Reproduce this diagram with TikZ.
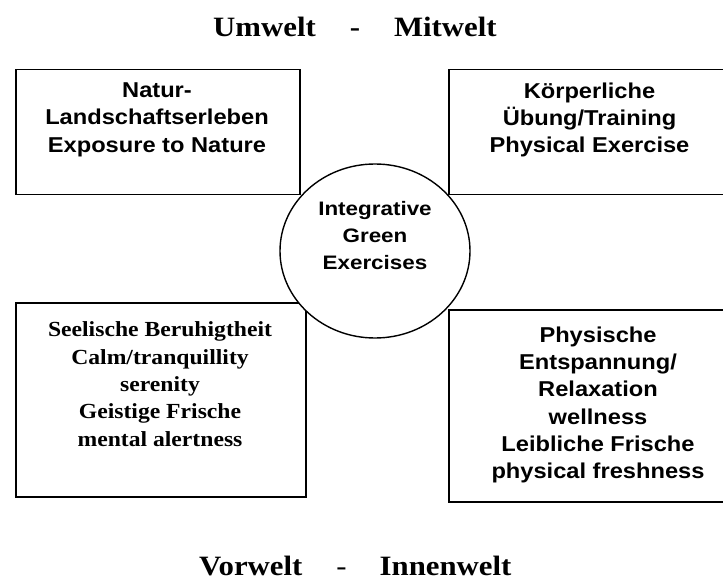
\documentclass[tikz,border=0pt]{standalone}
\usepackage{fontspec}
\setmainfont{Liberation Serif}
\newfontfamily\sansbox{Liberation Sans}[FakeStretch=1.1]
\newfontfamily\sanscore{Liberation Sans}[FakeStretch=1.15]
\newfontfamily\serifbox{Liberation Serif}[FakeStretch=1.1]
\usetikzlibrary{shapes.geometric}
\begin{document}
\begin{tikzpicture}[x=1pt,y=-1pt,
  panel/.style={draw, line width=1.5pt, rectangle, inner sep=0pt, anchor=north west, fill=white},
  core/.style={draw, line width=1.4pt, ellipse, inner sep=0pt, fill=white,
    minimum width=190pt, minimum height=174pt},
  sanslabel/.style={font=\sansbox\bfseries\fontsize{21.5}{27.3}\selectfont,
    align=center, inner sep=0pt, anchor=north},
  corelabel/.style={font=\sanscore\bfseries\fontsize{19.5}{27.3}\selectfont,
    align=center, inner sep=0pt, anchor=north},
  seriflabel/.style={font=\serifbox\bfseries\fontsize{21.5}{27.4}\selectfont,
    align=center, inner sep=0pt, anchor=north},
  heading/.style={font=\serifbox\bfseries\fontsize{28}{32}\selectfont,
    inner sep=0pt, anchor=base west}]
\useasboundingbox (0,0) rectangle (723,580);

% four quadrant panels
\node[panel, minimum width=284pt, minimum height=125pt] (nature) at (15,69) {};
\node[panel, minimum width=290pt, minimum height=125pt] (exercise) at (448,69) {};
\node[panel, minimum width=290pt, minimum height=194pt] (calm) at (15,302) {};
\node[panel, minimum width=300pt, minimum height=192pt] (relax) at (448,309) {};

% central ellipse drawn over the panel corners
\node[core] (green) at (375,251) {};

% panel texts
\node[sanslabel] (natureText) at (157,82.5) {Natur-\\Landschaftserleben\\Exposure to Nature};
\node[sanslabel] (exerciseText) at (589.5,82.5) {Körperliche\\Übung/Training\\Physical Exercise};
\node[seriflabel] (calmText) at (160,321.5) {Seelische Beruhigtheit\\Calm/tranquillity\\serenity\\Geistige Frische\\mental alertness};
\node[sanslabel] (relaxText) at (598,326.5) {Physische\\Entspannung/\\Relaxation\\wellness\\Leibliche Frische\\physical freshness};
\node[corelabel] (greenText) at (375,201) {Integrative\\Green\\Exercises};

% headings
\node[heading] (top) at (213,37) {Umwelt\hspace{34pt}-\hspace{34pt}Mitwelt};
\node[heading] (bottom) at (199,575) {Vorwelt\hspace{34pt}\textmd{-}\hspace{33pt}Innenwelt};
\end{tikzpicture}
\end{document}
